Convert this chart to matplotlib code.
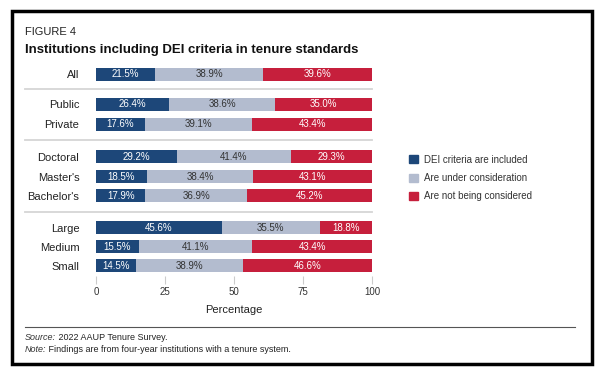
import matplotlib.pyplot as plt
from matplotlib.patches import Rectangle
from matplotlib.lines import Line2D

plt.rcParams['font.family'] = ['Liberation Sans', 'DejaVu Sans']

# ---- data ----
categories = ['All', 'Public', 'Private', 'Doctoral', "Master's", "Bachelor's", 'Large', 'Medium', 'Small']
included = [21.5, 26.4, 17.6, 29.2, 18.5, 17.9, 45.6, 15.5, 14.5]
under_consideration = [38.9, 38.6, 39.1, 41.4, 38.4, 36.9, 35.5, 41.1, 38.9]
not_considered = [39.6, 35.0, 43.4, 29.3, 43.1, 45.2, 18.8, 43.4, 46.6]
series_names = ['DEI criteria are included', 'Are under consideration', 'Are not being considered']
x_ticks = [0, 25, 50, 75, 100]

colors = ['#1d4779', '#b3bccf', '#c61f3c']
text_colors = ['white', '#333333', 'white']

# row positions (pixel-like layout units, groups separated by gaps)
ypos = [74, 104, 124, 157, 177, 196, 228, 247, 266]
separators = [89, 140, 212]

W, H = 600, 376
fig = plt.figure(figsize=(6, 3.76), dpi=100)
ax = fig.add_axes([96 / W, 1 - 276 / H, 276 / W, (276 - 62) / H])

series = [included, under_consideration, not_considered]
left = [0] * len(categories)
for vals, col, tcol, name in zip(series, colors, text_colors, series_names):
    ax.barh(ypos, vals, left=left, height=13, color=col, label=name, edgecolor='none')
    for y, l, v in zip(ypos, left, vals):
        ax.text(l + v / 2, y, f'{v:.1f}%', ha='center', va='center',
                fontsize=7, color=tcol)
    left = [a + b for a, b in zip(left, vals)]

ax.set_xlim(0, 100)
ax.set_ylim(276, 62)
ax.set_yticks(ypos)
ax.set_yticklabels(categories, fontsize=8, color='#222222')
ax.tick_params(axis='y', length=0, pad=12)
ax.set_xticks(x_ticks)
ax.set_xticklabels([str(t) for t in x_ticks], fontsize=7, color='#333333')
ax.tick_params(axis='x', length=6, color='#cccccc', pad=2)
for s in ax.spines.values():
    s.set_visible(False)
ax.set_xlabel('Percentage', fontsize=8, color='#222222', labelpad=6)

for yy in separators:
    ax.axhline(yy, xmin=(25 - 96) / 276, xmax=1, color='#d5d5d5', lw=1.3, clip_on=False)

# legend
handles = [Rectangle((0, 0), 1, 1, color=c) for c in colors]
fig.legend(handles, series_names, loc='upper left', bbox_to_anchor=(400 / W, 1 - 146 / H),
           frameon=False, fontsize=7, handlelength=0.9, handleheight=0.9,
           handletextpad=0.7, labelspacing=0.85, labelcolor='#333333')

# titles
fig.text(25 / W, 1 - 32 / H, 'FIGURE 4', fontsize=8, va='center', color='#222222')
fig.text(25 / W, 1 - 50 / H, 'Institutions including DEI criteria in tenure standards',
         fontsize=9.5, fontweight='bold', va='center', color='#111111')

# footer
fig.add_artist(Line2D([25 / W, 575 / W], [1 - 327 / H, 1 - 327 / H], color='#555555', lw=0.8))
src = fig.text(25 / W, 1 - 338 / H, 'Source:', fontsize=6.5, style='italic', va='center', color='#333333')
ax.annotate(' 2022 AAUP Tenure Survey.', xy=(1, 0.5), xycoords=src, va='center',
            fontsize=6.5, color='#222222', annotation_clip=False)
note = fig.text(25 / W, 1 - 350 / H, 'Note:', fontsize=6.5, style='italic', va='center', color='#333333')
ax.annotate(' Findings are from four-year institutions with a tenure system.', xy=(1, 0.5),
            xycoords=note, va='center', fontsize=6.5, color='#222222', annotation_clip=False)

# outer frame
fig.add_artist(Rectangle((12 / W, 1 - 364 / H), 580 / W, 353 / H, fill=False,
                         edgecolor='black', lw=2.5, transform=fig.transFigure))

fig.savefig('out.png', dpi=100)
